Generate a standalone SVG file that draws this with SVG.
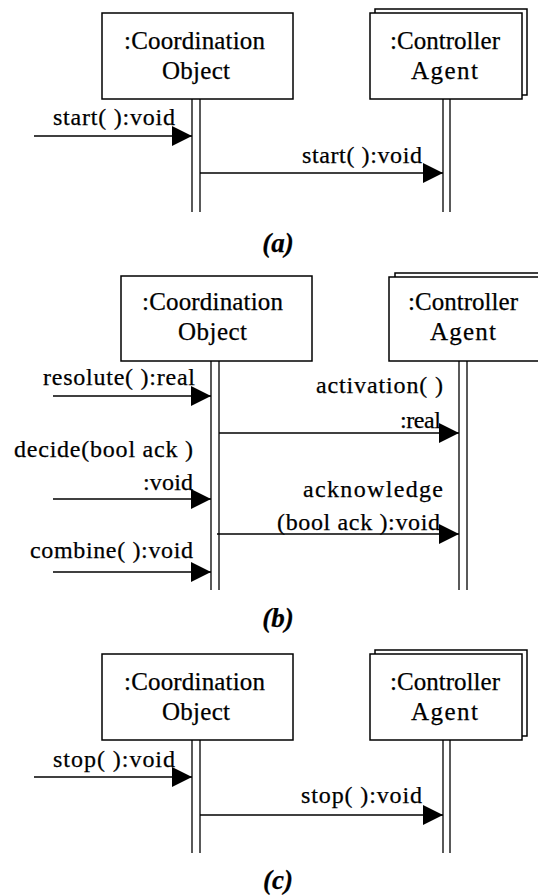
<svg xmlns="http://www.w3.org/2000/svg" width="538" height="896" viewBox="0 0 538 896">
<style>
.box{fill:#fff;stroke:#000;stroke-width:1.5}
.ll{stroke:#000;stroke-width:1.3;fill:none}
.msg{stroke:#000;stroke-width:1.3;fill:none;marker-end:url(#ah)}
text{font-family:"Liberation Serif","Times New Roman",serif;font-size:25px;fill:#000;stroke:#000;stroke-width:0.25}
.lbl{font-size:24px}
.cap{font-weight:bold;font-style:italic;font-size:27px}
</style>
<defs>
<marker id="ah" markerUnits="userSpaceOnUse" viewBox="0 0 20 20" refX="20" refY="10" markerWidth="20" markerHeight="20" orient="auto">
<path d="M0,0 L20,10 L0,20 z" fill="#000"/>
</marker>
</defs>
<rect width="538" height="896" fill="#fff"/>

<!-- Panel (a) -->
<g id="a-coord">
<rect class="box" x="102" y="13" width="191" height="86"/>
<text x="124" y="49" textLength="141" lengthAdjust="spacing">:Coordination</text>
<text x="162" y="79" textLength="68" lengthAdjust="spacing">Object</text>
<line class="ll" x1="192" y1="99" x2="192" y2="212"/>
<line class="ll" x1="200" y1="99" x2="200" y2="212"/>
</g>
<g id="a-ctrl">
<rect class="box" x="375" y="9" width="152" height="86"/>
<rect class="box" x="370" y="13" width="152" height="86"/>
<text x="390" y="49" textLength="110" lengthAdjust="spacing">:Controller</text>
<text x="411" y="79" textLength="67" lengthAdjust="spacing">Agent</text>
<line class="ll" x1="443" y1="99" x2="443" y2="212"/>
<line class="ll" x1="450" y1="99" x2="450" y2="212"/>
</g>
<g id="a-connectors">
<line class="msg" x1="34" y1="136" x2="192" y2="136"/>
<text class="lbl" x="53" y="125" textLength="122" lengthAdjust="spacing">start( ):void</text>
<line class="msg" x1="200" y1="173" x2="443" y2="173"/>
<text class="lbl" x="302" y="163" textLength="120" lengthAdjust="spacing">start( ):void</text>
</g>
<text class="cap" x="278" y="252" text-anchor="middle">(a)</text>

<!-- Panel (b) -->
<g id="b-coord">
<rect class="box" x="121" y="276" width="191" height="85"/>
<text x="142" y="310" textLength="141" lengthAdjust="spacing">:Coordination</text>
<text x="178" y="340" textLength="69" lengthAdjust="spacing">Object</text>
<line class="ll" x1="211" y1="361" x2="211" y2="590"/>
<line class="ll" x1="219" y1="361" x2="219" y2="590"/>
</g>
<g id="b-ctrl">
<rect class="box" x="395" y="273" width="152" height="85"/>
<rect class="box" x="389" y="277" width="152" height="84"/>
<text x="408" y="310" textLength="110" lengthAdjust="spacing">:Controller</text>
<text x="430" y="340" textLength="66" lengthAdjust="spacing">Agent</text>
<line class="ll" x1="459" y1="361" x2="459" y2="590"/>
<line class="ll" x1="467" y1="361" x2="467" y2="590"/>
</g>
<g id="b-connectors">
<line class="msg" x1="53" y1="396" x2="211" y2="396"/>
<text class="lbl" x="43" y="385" textLength="152" lengthAdjust="spacing">resolute( ):real</text>
<line class="msg" x1="219" y1="433" x2="459" y2="433"/>
<text class="lbl" x="316" y="393" textLength="127" lengthAdjust="spacing">activation( )</text>
<text class="lbl" x="400" y="428" textLength="41" lengthAdjust="spacing">:real</text>
<line class="msg" x1="53" y1="499" x2="211" y2="499"/>
<text class="lbl" x="14" y="457" textLength="179" lengthAdjust="spacing">decide(bool ack )</text>
<text class="lbl" x="143" y="490" textLength="50" lengthAdjust="spacing">:void</text>
<line class="msg" x1="217" y1="534" x2="459" y2="534"/>
<text class="lbl" x="303" y="497" textLength="140" lengthAdjust="spacing">acknowledge</text>
<text class="lbl" x="277" y="530" textLength="163" lengthAdjust="spacing">(bool ack ):void</text>
<line class="msg" x1="53" y1="572" x2="211" y2="572"/>
<text class="lbl" x="30" y="558" textLength="163" lengthAdjust="spacing">combine( ):void</text>
</g>
<text class="cap" x="278" y="627" text-anchor="middle">(b)</text>

<!-- Panel (c) -->
<g id="c-coord">
<rect class="box" x="102" y="654" width="191" height="86"/>
<text x="124" y="690" textLength="141" lengthAdjust="spacing">:Coordination</text>
<text x="162" y="720" textLength="68" lengthAdjust="spacing">Object</text>
<line class="ll" x1="192" y1="740" x2="192" y2="853"/>
<line class="ll" x1="200" y1="740" x2="200" y2="853"/>
</g>
<g id="c-ctrl">
<rect class="box" x="375" y="650" width="152" height="86"/>
<rect class="box" x="370" y="654" width="152" height="86"/>
<text x="390" y="690" textLength="110" lengthAdjust="spacing">:Controller</text>
<text x="411" y="720" textLength="67" lengthAdjust="spacing">Agent</text>
<line class="ll" x1="443" y1="740" x2="443" y2="853"/>
<line class="ll" x1="450" y1="740" x2="450" y2="853"/>
</g>
<g id="c-connectors">
<line class="msg" x1="34" y1="777" x2="192" y2="777"/>
<text class="lbl" x="53" y="767" textLength="122" lengthAdjust="spacing">stop( ):void</text>
<line class="msg" x1="200" y1="815" x2="443" y2="815"/>
<text class="lbl" x="301" y="803" textLength="121" lengthAdjust="spacing">stop( ):void</text>
</g>
<text class="cap" x="278" y="889" text-anchor="middle">(c)</text>
</svg>
